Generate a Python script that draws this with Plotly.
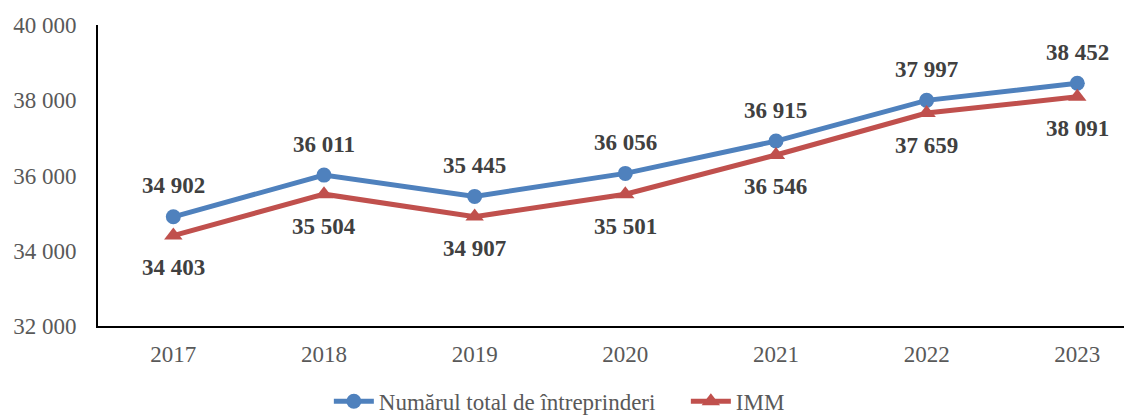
import plotly.graph_objects as go

years = ["2017", "2018", "2019", "2020", "2021", "2022", "2023"]
total = [34902, 36011, 35445, 36056, 36915, 37997, 38452]
imm = [34403, 35504, 34907, 35501, 36546, 37659, 38091]
names = ["Numărul total de întreprinderi", "IMM"]

BLUE = "#4F81BD"
RED = "#C0504D"
FONT = "Liberation Serif, Times New Roman, serif"

def fmt(v):
    return f"{v:,}".replace(",", " ")

fig = go.Figure()
fig.add_trace(go.Scatter(x=years, y=total, name=names[0], mode="lines+markers",
                         line=dict(color=BLUE, width=5),
                         marker=dict(symbol="circle", size=15, color=BLUE)))
fig.add_trace(go.Scatter(x=years, y=imm, name=names[1], mode="lines+markers",
                         line=dict(color=RED, width=5),
                         marker=dict(symbol="triangle-up", size=16, color=RED)))

for i, v in enumerate(total):
    fig.add_annotation(x=i, y=v, text="<b>" + fmt(v) + "</b>", showarrow=False, yshift=31,
                       font=dict(family=FONT, size=23, color="#404040"))
for i, v in enumerate(imm):
    fig.add_annotation(x=i, y=v, text="<b>" + fmt(v) + "</b>", showarrow=False, yshift=-32,
                       font=dict(family=FONT, size=23, color="#404040"))

fig.update_layout(
    width=1124, height=417,
    margin=dict(l=98, r=0, t=25, b=91, autoexpand=False),
    paper_bgcolor="white", plot_bgcolor="white",
    separators=". ",
    font=dict(family=FONT, size=23, color="#595959"),
    showlegend=True,
    legend=dict(orientation="h", x=0.225, xanchor="left", y=-0.25, yanchor="middle",
                font=dict(family=FONT, size=23, color="#595959"), itemwidth=40,
                entrywidth=302, tracegroupgap=0),
)
fig.update_xaxes(type="category", range=[-0.5, 6.31], showline=True, linecolor="black",
                 linewidth=2, showgrid=False, ticks="", ticklabelstandoff=6,
                 automargin=False,
                 tickfont=dict(family=FONT, size=23, color="#595959"))
fig.update_yaxes(range=[32000, 40000], dtick=2000, tickformat=",d", showline=True,
                 linecolor="black", linewidth=2, showgrid=False, zeroline=False,
                 ticks="", ticklabelstandoff=15, automargin=False,
                 tickfont=dict(family=FONT, size=23, color="#595959"))

fig.write_html("out.html", config={"displayModeBar": False},
               post_script="document.body.style.margin='0';document.body.style.overflow='hidden';")
